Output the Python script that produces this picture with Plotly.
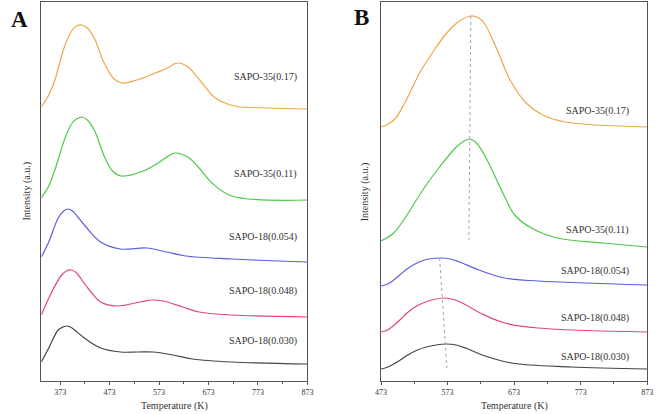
import plotly.graph_objects as go

# ---------------- Panel A data (Temperature K, intensity a.u.) ----------------
a_orange_T = [335, 350, 363, 373, 383, 396, 406, 417, 428, 442, 462, 482, 498, 528, 561, 594, 603, 612, 621, 634, 660, 687, 726, 793, 873]
a_orange_I = [274, 286, 302, 320, 336, 350, 355, 356, 353, 343, 318, 302, 298, 301, 307, 314, 317, 318, 317, 313, 298, 283, 275, 273, 272]

a_green_T = [335, 350, 363, 383, 396, 406, 417, 428, 442, 462, 479, 496, 541, 574, 595, 606, 617, 634, 654, 680, 720, 873]
a_green_I = [183, 195, 212, 243, 257, 262, 264, 261, 251, 225, 210, 205, 210, 219, 226, 228, 227, 223, 213, 198, 185, 181]

a_blue_T = [335, 350, 369, 380, 389, 398, 422, 455, 495, 548, 588, 627, 720, 873]
a_blue_I = [124, 139, 163, 170, 172, 170, 156, 139, 132, 133, 129, 125, 122, 119]

a_pink_T = [335, 356, 376, 386, 395, 404, 429, 455, 488, 535, 560, 581, 621, 654, 720, 873]
a_pink_I = [66, 89, 106, 110, 111, 109, 93, 79, 75, 79, 81, 80, 74, 69, 66, 64]

a_black_T = [335, 350, 369, 379, 388, 397, 422, 455, 495, 530, 561, 601, 641, 720, 873]
a_black_I = [19, 33, 51, 54, 55, 53, 43, 33, 29, 29, 29, 26, 22, 19, 17]

# ---------------- Panel B data ----------------
b_orange_T = [473, 484, 495, 507, 519, 531, 544, 556, 568, 580, 593, 608, 620, 628, 647, 667, 691, 716, 750, 873]
b_orange_I = [254, 257, 263, 276, 292, 308, 322, 334, 345, 354, 361, 365, 363, 358, 332, 301, 278, 266, 259, 254]

b_green_T = [473, 492, 512, 527, 544, 561, 586, 598, 605, 615, 630, 659, 674, 699, 738, 807, 873]
b_green_I = [140, 148, 166, 182, 199, 214, 234, 240, 242, 239, 224, 184, 166, 153, 143, 138, 134]

b_blue_T = [473, 483, 492, 502, 512, 524, 536, 550, 563, 577, 591, 620, 659, 709, 873]
b_blue_I = [95, 97, 101, 106.5, 112, 117, 120.5, 122.5, 123, 122, 119, 111, 103, 100, 96]

b_pink_T = [473, 483, 492, 502, 512, 524, 536, 552, 568, 582, 595, 625, 659, 709, 873]
b_pink_I = [49, 51, 55.5, 61.5, 68, 74, 78, 81.5, 83, 81.5, 78, 67, 58, 53, 49]

b_black_T = [473, 483, 492, 502, 512, 526, 541, 556, 571, 586, 600, 625, 669, 758, 873]
b_black_I = [12, 14, 17, 21, 25.5, 30.5, 34, 36, 37, 36, 33, 26, 18, 14, 12]

# guide (dotted) lines in panel B
guide1_T = [608, 605]
guide1_I = [365, 141]
guide2_T = [561, 572]
guide2_I = [123, 13]

names = ["SAPO-35(0.17)", "SAPO-35(0.11)", "SAPO-18(0.054)", "SAPO-18(0.048)", "SAPO-18(0.030)"]
colors = ["#EFA64A", "#4DC94A", "#5E5EDF", "#E2477C", "#454545"]
label_I_A = [304, 207, 144, 90, 40]
label_I_B = [270, 151, 110, 63, 24]
ticks = [373, 473, 573, 673, 773, 873]

A = [(a_orange_T, a_orange_I), (a_green_T, a_green_I), (a_blue_T, a_blue_I),
     (a_pink_T, a_pink_I), (a_black_T, a_black_I)]
B = [(b_orange_T, b_orange_I), (b_green_T, b_green_I), (b_blue_T, b_blue_I),
     (b_pink_T, b_pink_I), (b_black_T, b_black_I)]

fig = go.Figure()
for (t, i), c, n in zip(A, colors, names):
    fig.add_trace(go.Scatter(x=t, y=i, mode="lines", line=dict(color=c, width=1.2, shape="spline", smoothing=1.0),
                             name=n, xaxis="x", yaxis="y", showlegend=False))
for (t, i), c, n in zip(B, colors, names):
    fig.add_trace(go.Scatter(x=t, y=i, mode="lines", line=dict(color=c, width=1.2, shape="spline", smoothing=1.0),
                             name=n, xaxis="x2", yaxis="y2", showlegend=False))
for gt, gi in [(guide1_T, guide1_I), (guide2_T, guide2_I)]:
    fig.add_trace(go.Scatter(x=gt, y=gi, mode="lines", line=dict(color="#9AAAB4", width=1, dash="dot"),
                             xaxis="x2", yaxis="y2", showlegend=False))

font_serif = "Liberation Serif, Times New Roman, serif"
ann = []
for n, yv in zip(names, label_I_A):
    ann.append(dict(x=855, y=yv, xref="x", yref="y", text=n, showarrow=False, xanchor="right", yanchor="middle",
                    font=dict(family=font_serif, size=10, color="#333")))
for n, yv in zip(names, label_I_B):
    ann.append(dict(x=848, y=yv, xref="x2", yref="y2", text=n, showarrow=False, xanchor="right", yanchor="middle",
                    font=dict(family=font_serif, size=10, color="#333")))


def paper_text(px, py, text, size, angle=0, color="#333"):
    return dict(x=px / 661, y=1 - py / 414, xref="paper", yref="paper", text=text, textangle=angle,
                showarrow=False, xanchor="center", yanchor="middle",
                font=dict(family=font_serif, size=size, color=color))


ann += [
    paper_text(14, 20, "<b>A</b>", 23, color="#111"),
    paper_text(362, 18, "<b>B</b>", 23, color="#111"),
    paper_text(21, 191, "Intensity (a.u.)", 10, angle=-90),
    paper_text(366, 192, "Intensity (a.u.)", 10, angle=-90),
    paper_text(171.5, 406, "Temperature (K)", 10),
    paper_text(517.5, 406, "Temperature (K)", 10),
]

xcommon = dict(showline=True, mirror=True, linecolor="#555", linewidth=1, showgrid=False, zeroline=False,
               tickmode="array", tickvals=ticks, ticks="outside", ticklen=3, tickcolor="#555",
               tickfont=dict(family=font_serif, size=8, color="#333"),
               minor=dict(ticks="outside", ticklen=2, tickcolor="#555", dtick=50, tick0=373))
ycommon = dict(showline=True, mirror=True, linecolor="#555", linewidth=1, showgrid=False, zeroline=False,
               showticklabels=False, ticks="", range=[0, 379])

ydom = [1 - 381 / 414, 1 - 2 / 414]
fig.update_layout(
    width=661, height=414, margin=dict(l=0, r=0, t=0, b=0),
    paper_bgcolor="white", plot_bgcolor="white",
    xaxis=dict(domain=[36 / 661, 307 / 661], range=[335, 873], anchor="y", **xcommon),
    yaxis=dict(domain=ydom, anchor="x", **ycommon),
    xaxis2=dict(domain=[382 / 661, 653 / 661], range=[473, 873], anchor="y2", **xcommon),
    yaxis2=dict(domain=ydom, anchor="x2", **ycommon),
    annotations=ann,
)
fig.write_html("out.html", config={"displayModeBar": False},
               post_script="document.body.style.margin='0';document.body.style.overflow='hidden';")
